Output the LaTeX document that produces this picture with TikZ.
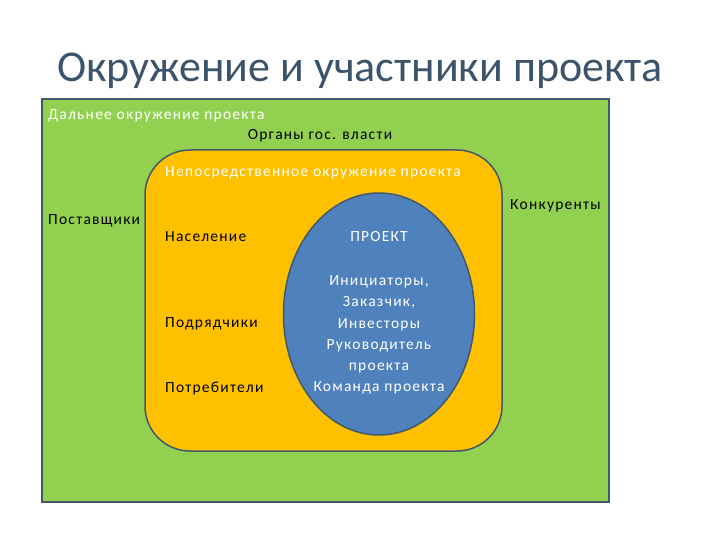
\documentclass[tikz,border=0pt]{standalone}
\usepackage{fontspec}
\setmainfont{Carlito}
\newfontfamily\spaced[LetterSpace=8]{Carlito}
\usepackage{tikz}
\usetikzlibrary{shapes.geometric}
\definecolor{zone}{HTML}{92D050}
\definecolor{near}{HTML}{FFC000}
\definecolor{core}{HTML}{4F81BD}
\definecolor{rim}{HTML}{41596B}
\definecolor{head}{HTML}{3B546C}

\begin{document}
\begin{tikzpicture}[x=1pt, y=-1pt,
	lbl/.style={inner sep=0pt, font=\spaced\fontsize{15.5}{18}\selectfont},
	wlbl/.style={lbl, text=white}]
\useasboundingbox (0,0) rectangle (720,540);
\node (title) [text=head, font=\fontsize{44}{50}\selectfont] at (360,71) {Окружение и участники проекта};
\draw[rim, line width=1.5pt, fill=zone] (42,99) rectangle (609,502);
\draw[rim, line width=1.5pt, fill=near, rounded corners=45pt] (145,150) rectangle (502,451);
\node (proj) [ellipse, draw=rim, line width=1.5pt, fill=core, minimum width=191pt, minimum height=242pt, inner sep=0pt] at (379,314) {};
% labels
\node (far) [wlbl, anchor=west] at (48,116) {Дальнее окружение проекта};
\node (gov) [lbl] at (320,136) {Органы гос. власти};
\node (nearlbl) [wlbl, anchor=west] at (165,173) {Непосредственное окружение проекта};
\node (supp) [lbl, anchor=west] at (48,221) {Поставщики};
\node (comp) [lbl, anchor=west] at (510,206) {Конкуренты};
\node (pop) [lbl, anchor=west] at (165,237) {Население};
\node (contr) [lbl, anchor=west] at (165,324) {Подрядчики};
\node (cons) [lbl, anchor=west] at (165,388) {Потребители};
\node (projlbl) [wlbl] at (379,237) {ПРОЕКТ};
\node (parts) [wlbl, align=center, font=\spaced\fontsize{15.5}{21.2}\selectfont] at (379,335) {Инициаторы,\\Заказчик,\\Инвесторы\\Руководитель\\проекта\\Команда проекта};
\end{tikzpicture}
\end{document}
